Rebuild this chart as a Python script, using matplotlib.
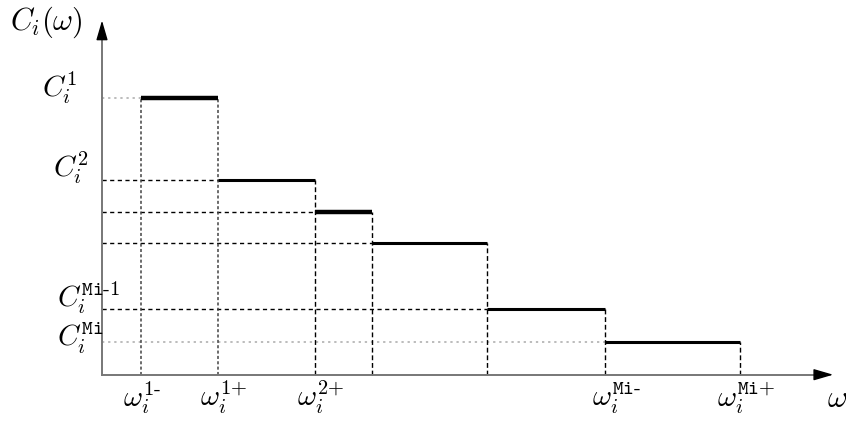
import matplotlib.pyplot as plt

plt.rcParams['mathtext.fontset'] = 'cm'

# breakpoints along omega (left and right edges of each step)
step_left = [39, 116, 213, 270, 385, 503]
step_right = [116, 213, 270, 385, 503, 638]
# cost level of each step
step_level = [277, 195, 163, 132, 66, 33]
step_width = [3.2, 2.2, 3.2, 2.2, 2.2, 2.2]

# which guide lines are drawn light grey dotted
h_grey = [True, False, False, False, False, True]
v_grey = [True, True, False, False, False, False, False]

y_labels = [r'$C_i^{\mathtt{1}}$', r'$C_i^{\mathtt{2}}$',
            r'$C_i^{\mathtt{Mi\text{-}1}}$', r'$C_i^{\mathtt{Mi}}$']
x_labels = [r'$\omega_i^{\mathtt{1\text{-}}}$', r'$\omega_i^{\mathtt{1\text{+}}}$',
            r'$\omega_i^{\mathtt{2\text{+}}}$', r'$\omega_i^{\mathtt{Mi\text{-}}}$',
            r'$\omega_i^{\mathtt{Mi\text{+}}}$']

# label anchors, in pixels of the picture: left edge, baseline
y_pos = [(42, 97), (53, 177), (57, 307), (57, 347)]
x_pos = [(123, 407), (200, 407), (297, 407), (592, 407), (717, 407)]


def px(x, y):
    return x - 102, 374.7 - y


fig = plt.figure(figsize=(8.46, 4.22), dpi=100)
ax = fig.add_axes([0, 0, 1, 1])
ax.set_xlim(-102, 744)
ax.set_ylim(-47.3, 374.7)
ax.axis('off')

# axes with arrows
ax.plot([0, 722], [0, 0], color='#777777', lw=1.4, zorder=3)
ax.plot([0, 0], [0, 336], color='#777777', lw=1.4, zorder=3)
ax.annotate('', xy=(734, 0), xytext=(716, 0),
            arrowprops=dict(arrowstyle='-|>,head_length=1.2,head_width=0.35',
                            color='black', lw=1), zorder=4)
ax.annotate('', xy=(0, 357), xytext=(0, 334),
            arrowprops=dict(arrowstyle='-|>,head_length=1.2,head_width=0.35',
                            color='black', lw=1), zorder=4)

# horizontal guides from the y axis to each step
for lvl, x0, grey in zip(step_level, step_left, h_grey):
    if grey:
        ax.plot([0, x0], [lvl, lvl], color='#aaaaaa', lw=1.1, ls=(0, (1.5, 2.5)))
    else:
        ax.plot([0, x0], [lvl, lvl], color='black', lw=1.0, ls=(0, (3, 2.5)))

# vertical guides from the x axis up to each step edge
v_x = step_left + [step_right[-1]]
v_top = [step_level[0]] + step_level
for x, top, grey in zip(v_x, v_top, v_grey):
    if grey:
        ax.plot([x, x], [0, top], color='#444444', lw=1.1, ls=(0, (2, 1.5)))
    else:
        ax.plot([x, x], [0, top], color='black', lw=1.0, ls=(0, (3.5, 2)))

# steps
for x0, x1, lvl, lw in zip(step_left, step_right, step_level, step_width):
    ax.plot([x0, x1], [lvl, lvl], color='black', lw=lw, solid_capstyle='butt', zorder=5)

# labels
ax.text(*px(10, 30), r'$C_i(\omega)$', fontsize=22, ha='left', va='baseline')
for lab, (bx, by) in zip(y_labels, y_pos):
    ax.text(*px(bx, by), lab, fontsize=21, ha='left', va='baseline')
for lab, (bx, by) in zip(x_labels, x_pos):
    ax.text(*px(bx, by), lab, fontsize=21, ha='left', va='baseline')
ax.text(*px(827, 407), r'$\omega$', fontsize=22, ha='left', va='baseline')

plt.savefig('out.png')
